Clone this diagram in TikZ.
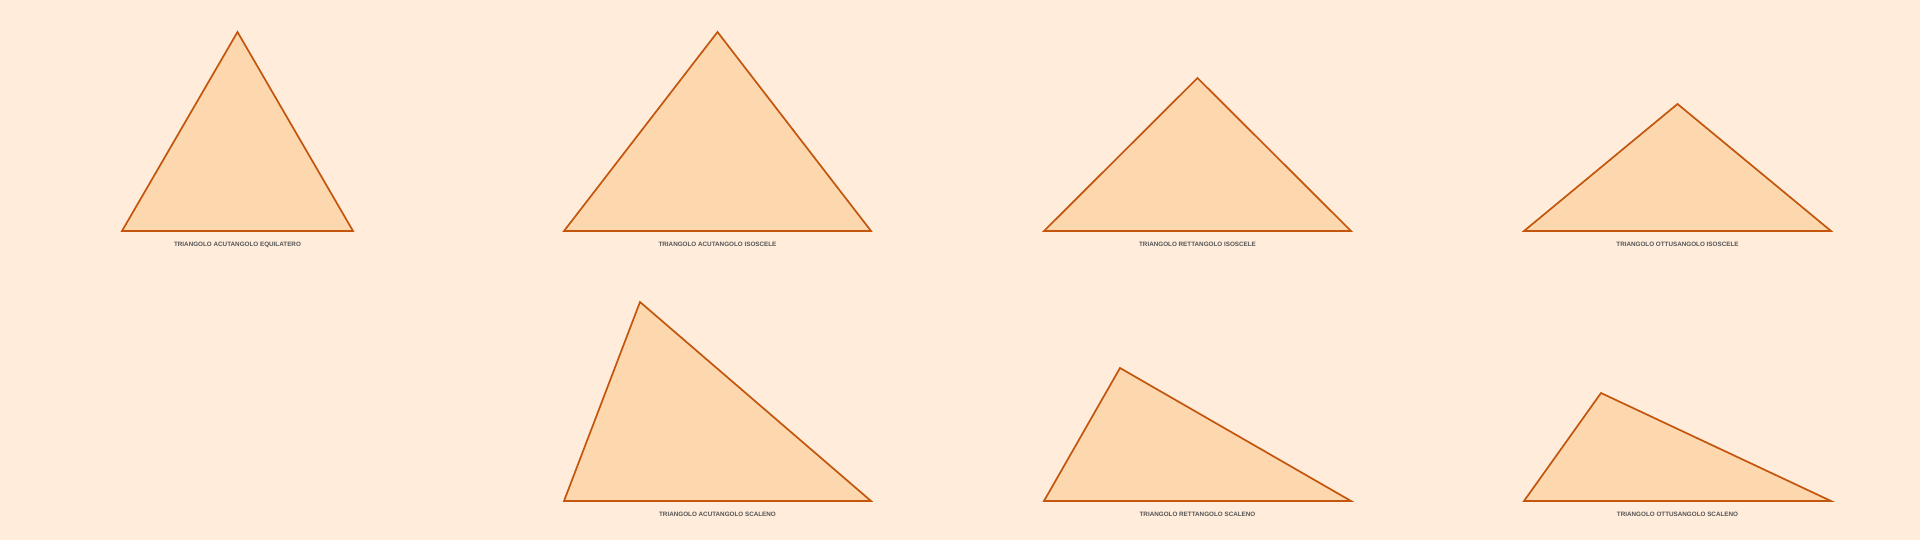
\documentclass[tikz,border=0pt]{standalone}
\usepackage{fontspec}
\setmainfont{Liberation Sans}
\usetikzlibrary{positioning}
\definecolor{paper}{HTML}{FFECDA}
\definecolor{trifill}{HTML}{FDD8AF}
\definecolor{triedge}{HTML}{C4550C}
\definecolor{labelgray}{HTML}{555555}

\begin{document}
\begin{tikzpicture}[x=1pt, y=-1pt,
    tri/.style={draw=triedge, fill=trifill, line width=1.7pt, line join=miter},
    caption/.style={text=labelgray, inner sep=0pt,
        font=\fontsize{6.3}{7}\selectfont\bfseries}]

        % page background
        \fill[paper] (0,0) rectangle (1920,540);
        \useasboundingbox (0,0) rectangle (1920,540);

        % top row: equilateral and isosceles triangles
        \coordinate (eqA) at (122,231);
        \coordinate (eqB) at (353,231);
        \coordinate (eqC) at (237.5,32);
        \coordinate (eqM) at (237.5,231);
        \draw[tri] (eqA) -- (eqB) -- (eqC) -- cycle;
        \node[caption, below=10.5pt of eqM] (eqLabel)
            {TRIANGOLO ACUTANGOLO EQUILATERO};

        \coordinate (aiA) at (564,231);
        \coordinate (aiB) at (871,231);
        \coordinate (aiC) at (717.5,32);
        \coordinate (aiM) at (717.5,231);
        \draw[tri] (aiA) -- (aiB) -- (aiC) -- cycle;
        \node[caption, below=10.5pt of aiM] (aiLabel)
            {TRIANGOLO ACUTANGOLO ISOSCELE};

        \coordinate (riA) at (1044,231);
        \coordinate (riB) at (1351,231);
        \coordinate (riC) at (1197.5,78);
        \coordinate (riM) at (1197.5,231);
        \draw[tri] (riA) -- (riB) -- (riC) -- cycle;
        \node[caption, below=10.5pt of riM] (riLabel)
            {TRIANGOLO RETTANGOLO ISOSCELE};

        \coordinate (oiA) at (1524,231);
        \coordinate (oiB) at (1831,231);
        \coordinate (oiC) at (1677.5,104);
        \coordinate (oiM) at (1677.5,231);
        \draw[tri] (oiA) -- (oiB) -- (oiC) -- cycle;
        \node[caption, below=10.5pt of oiM] (oiLabel)
            {TRIANGOLO OTTUSANGOLO ISOSCELE};

        % bottom row: scalene triangles
        \coordinate (asA) at (564,501);
        \coordinate (asB) at (871,501);
        \coordinate (asC) at (640,302);
        \coordinate (asM) at (717.5,501);
        \draw[tri] (asA) -- (asB) -- (asC) -- cycle;
        \node[caption, below=10.5pt of asM] (asLabel)
            {TRIANGOLO ACUTANGOLO SCALENO};

        \coordinate (rsA) at (1044,501);
        \coordinate (rsB) at (1351,501);
        \coordinate (rsC) at (1120,368);
        \coordinate (rsM) at (1197.5,501);
        \draw[tri] (rsA) -- (rsB) -- (rsC) -- cycle;
        \node[caption, below=10.5pt of rsM] (rsLabel)
            {TRIANGOLO RETTANGOLO SCALENO};

        \coordinate (osA) at (1524,501);
        \coordinate (osB) at (1831,501);
        \coordinate (osC) at (1601,393);
        \coordinate (osM) at (1677.5,501);
        \draw[tri] (osA) -- (osB) -- (osC) -- cycle;
        \node[caption, below=10.5pt of osM] (osLabel)
            {TRIANGOLO OTTUSANGOLO SCALENO};

    \end{tikzpicture}
\end{document}
